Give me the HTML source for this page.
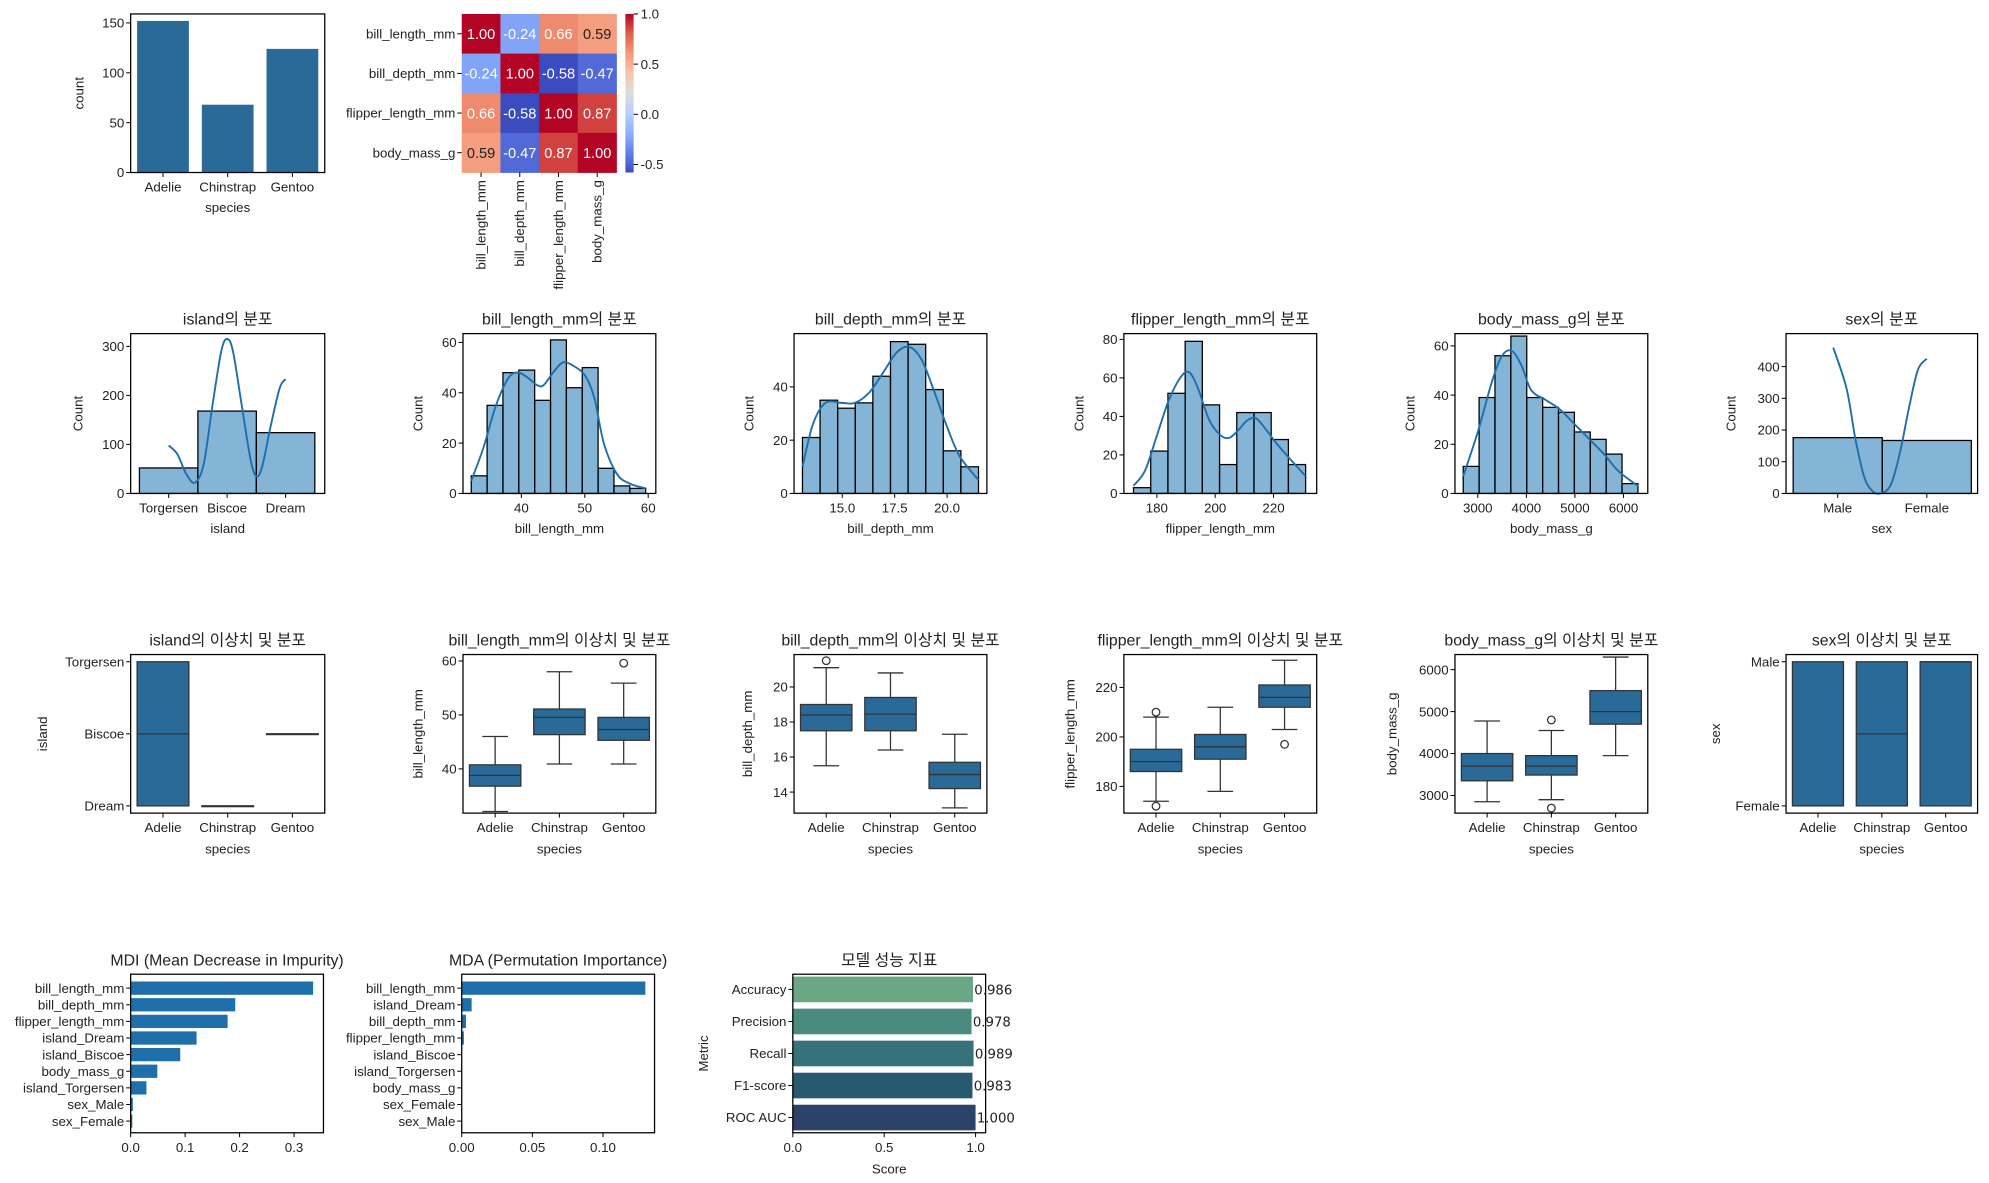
<!DOCTYPE html>
<html><head><meta charset="utf-8"><style>
html,body{margin:0;padding:0;background:#fff;}
svg{display:block;font-family:"Liberation Sans","Noto Sans CJK KR",sans-serif;}
</style></head><body>
<svg id="fig" xmlns="http://www.w3.org/2000/svg" width="1989" height="1183" viewBox="0 0 1568 932.6"></svg>
<script>
// ---------- data ----------
const speciesCats=['Adelie','Chinstrap','Gentoo'];
const speciesCounts=[152,68,124];
const heatLabels=['bill_length_mm','bill_depth_mm','flipper_length_mm','body_mass_g'];
const heatValues=[[1.00,-0.24,0.66,0.59],[-0.24,1.00,-0.58,-0.47],[0.66,-0.58,1.00,0.87],[0.59,-0.47,0.87,1.00]];
const cbarTicks=[1.0,0.5,0.0,-0.5];

const islandCats=['Torgersen','Biscoe','Dream'];
const islandCounts=[52,168,124];
const islandKdeX=[0,0.15,0.3,0.45,0.6,0.75,0.9,1.0,1.1,1.25,1.4,1.5,1.6,1.75,1.9,2.0];
const islandKdeY=[98,80,40,22,60,180,290,315,290,180,70,35,55,140,215,233];

const billLenCounts=[7,35,48,49,37,61,42,50,10,3,2];
const billLenKdeX=[32.1,34,36,38,39.5,41,42.5,43.5,45,46.5,48,50,51.5,53,55,57,59.6];
const billLenKdeY=[5,18,35,46,48,46,43,43,48,52,51,47,38,20,8,4,2];
const billDepthCounts=[21,35,32,34,44,57,56,39,16,10];
const billDepthKdeX=[13.1,13.6,14.2,15,15.6,16.3,17,17.6,18.2,18.8,19.4,20,20.6,21.5];
const billDepthKdeY=[10,26,34,34,34,38,46,53,55,50,38,25,14,5];
const flipperCounts=[3,22,52,79,46,15,42,42,28,15];
const flipperKdeX=[172,176,180,184,188,191,194,198,202,205,208,211,214,217,221,225,228,231];
const flipperKdeY=[4,12,30,48,60,63,55,38,30,29,33,38,39,34,26,19,14,9];
const bodyCounts=[11,39,56,64,39,35,33,25,22,16,4];
const bodyKdeX=[2700,3000,3300,3500,3700,3900,4100,4400,4700,5000,5300,5600,5900,6300];
const bodyKdeY=[7,25,46,56,58,52,42,38,34,28,22,16,9,3];
const sexCats=['Male','Female'];
const sexCounts=[176,167];
const sexKdeX=[-0.05,0.1,0.2,0.3,0.4,0.5,0.6,0.7,0.8,0.9,1.0];
const sexKdeY=[460,330,170,50,5,2,30,130,270,390,425];

// boxplots: [Adelie, Chinstrap, Gentoo]
const islandBoxQ1=[0,2,1],islandBoxMed=[1,2,1],islandBoxQ3=[2,2,1];
const blQ1=[36.8,46.35,45.3],blMed=[38.8,49.55,47.3],blQ3=[40.75,51.1,49.55],blLo=[32.1,40.9,40.9],blHi=[46,58,55.9],blOut=[[],[],[59.6]];
const bdQ1=[17.5,17.5,14.2],bdMed=[18.4,18.45,15.0],bdQ3=[19.0,19.4,15.7],bdLo=[15.5,16.4,13.1],bdHi=[21.1,20.8,17.3],bdOut=[[21.5],[],[]];
const flQ1=[186,191,212],flMed=[190,196,216],flQ3=[195,201,221],flLo=[174,178,203],flHi=[208,212,231],flOut=[[210,172],[],[197]];
const bmQ1=[3350,3487,4700],bmMed=[3700,3700,5000],bmQ3=[4000,3950,5500],bmLo=[2850,2900,3950],bmHi=[4775,4550,6300],bmOut=[[],[4800,2700],[]];
const sexBoxQ1=[0,0,0],sexBoxMed=[1,0.5,0],sexBoxQ3=[1,1,1];

const mdiFeatures=['bill_length_mm','bill_depth_mm','flipper_length_mm','island_Dream','island_Biscoe','body_mass_g','island_Torgersen','sex_Male','sex_Female'];
const mdiValues=[0.335,0.192,0.178,0.121,0.091,0.049,0.029,0.004,0.003];
const mdaFeatures=['bill_length_mm','island_Dream','bill_depth_mm','flipper_length_mm','island_Biscoe','island_Torgersen','body_mass_g','sex_Female','sex_Male'];
const mdaValues=[0.130,0.007,0.003,0.0015,0,0,0,0,0];
const metricNames=['Accuracy','Precision','Recall','F1-score','ROC AUC'];
const metricValues=[0.986,0.978,0.989,0.983,1.000];
const metricLabels=['0.986','0.978','0.989','0.983','1.000'];

// ---------- helpers ----------
const NS='http://www.w3.org/2000/svg';
const svg=document.getElementById('fig');
function E(tag,at,p){const e=document.createElementNS(NS,tag);for(const k in at)e.setAttribute(k,at[k]);(p||svg).appendChild(e);return e;}
function lin(d0,d1,r0,r1){return v=>r0+(v-d0)*(r1-r0)/(d1-d0);}
const FS=10.5;
function txt(x,y,s,o,p){o=o||{};const e=E('text',{x:x,y:y,'font-size':o.fs||FS,fill:'#222','text-anchor':o.a||'middle'},p);if(o.rot!==undefined)e.setAttribute('transform','rotate('+o.rot+' '+x+' '+y+')');if(o.ff)e.setAttribute('font-family',o.ff);e.textContent=s;return e;}
function frame(g,x0,y0,x1,y1){const r=E('rect',{x:x0,y:y0,width:x1-x0,height:y1-y0,fill:'none',stroke:'#000','stroke-width':1},g);}
function ytick(g,x0,y,lab){E('line',{x1:x0-3.5,y1:y,x2:x0,y2:y,stroke:'#000','stroke-width':0.8},g);const t=txt(x0-5,y+3.7,lab,{a:'end'},g);}
function xtick(g,x,y1,lab){E('line',{x1:x,y1:y1,x2:x,y2:y1+3.5,stroke:'#000','stroke-width':0.8},g);const t=txt(x,y1+15,lab,{},g);}
function smooth(pts){let d='M'+pts[0][0]+','+pts[0][1];for(let i=0;i<pts.length-1;i++){const p0=pts[i-1]||pts[i],p1=pts[i],p2=pts[i+1],p3=pts[i+2]||p2;d+=' C'+(p1[0]+(p2[0]-p0[0])/6)+','+(p1[1]+(p2[1]-p0[1])/6)+' '+(p2[0]-(p3[0]-p1[0])/6)+','+(p2[1]-(p3[1]-p1[1])/6)+' '+p2[0]+','+p2[1];}return d;}
function grp(name){const g=E('g',{});return g;}
const BOX='#2a6a98', HIST='rgba(31,119,180,0.55)', LINE='#1f6fab';

// ---------- row1: count plot ----------
(function(){
const g=grp('species-count-plot');
const X0=103,X1=256,Y0=11,Y1=136;
const y=lin(0,159,Y1,Y0);const cw=(X1-X0)/3;
speciesCounts.forEach((v,i)=>{const r=E('rect',{x:X0+cw*i+cw*0.1,y:y(v),width:cw*0.8,height:Y1-y(v),fill:BOX},g);

});
frame(g,X0,Y0,X1,Y1);
[0,50,100,150].forEach(v=>ytick(g,X0,y(v),String(v)));
speciesCats.forEach((c,i)=>xtick(g,X0+cw*(i+0.5),Y1,c));
const xl=txt((X0+X1)/2,167,'species',{},g);
const yl=txt(66,(Y0+Y1)/2,'count',{rot:-90},g);
})();

// ---------- row1: heatmap ----------
const cwStops=[[0,[59,76,192]],[0.125,[98,130,234]],[0.25,[141,176,254]],[0.375,[184,208,249]],[0.5,[221,221,221]],[0.625,[245,196,173]],[0.75,[244,154,123]],[0.875,[222,96,77]],[1,[180,4,38]]];
function coolwarm(t){t=Math.max(0,Math.min(1,t));for(let i=1;i<cwStops.length;i++){if(t<=cwStops[i][0]){const a=cwStops[i-1],b=cwStops[i];const f=(t-a[0])/(b[0]-a[0]);return 'rgb('+a[1].map((c,k)=>Math.round(c+(b[1][k]-c)*f)).join(',')+')';}}return 'rgb(180,4,38)';}
(function(){
const g=grp('correlation-heatmap');
const X0=364,X1=486,Y0=11,Y1=136;const vmin=-0.58,vmax=1.0;
const cw=(X1-X0)/4,ch=(Y1-Y0)/4;
heatValues.forEach((row,i)=>row.forEach((v,j)=>{
const r=E('rect',{x:X0+j*cw,y:Y0+i*ch,width:cw+0.3,height:ch+0.3,fill:coolwarm((v-vmin)/(vmax-vmin))},g);


const t=txt(X0+(j+0.5)*cw,Y0+(i+0.5)*ch+4.2,v.toFixed(2),{fs:11.5},g);t.setAttribute('fill',Math.abs(v)>0.5||v<0?'#fff':'#222');if(v>0.5&&v<0.7)t.setAttribute('fill','#fff');if(v>0.55&&v<0.62)t.setAttribute('fill','#222');


}));
heatLabels.forEach((l,i)=>{ytick(g,X0,Y0+(i+0.5)*ch,l);
const x=X0+(i+0.5)*cw;E('line',{x1:x,y1:Y1,x2:x,y2:Y1+3.5,stroke:'#000','stroke-width':0.8},g);
const t=txt(x+3.5,Y1+6,l,{a:'end',rot:-90},g);});
const defs=E('defs',{});const lg=E('linearGradient',{id:'cbg',x1:0,y1:1,x2:0,y2:0},defs);
for(let k=0;k<=16;k++)E('stop',{offset:k/16,'stop-color':coolwarm(k/16)},lg);
const cb=E('rect',{x:493,y:Y0,width:6.5,height:Y1-Y0,fill:'url(#cbg)'},g);


const cy=lin(vmin,vmax,Y1,Y0);
cbarTicks.forEach(v=>{E('line',{x1:499.5,y1:cy(v),x2:503,y2:cy(v),stroke:'#000','stroke-width':0.8},g);const t=txt(505,cy(v)+3.7,v.toFixed(1),{a:'start'},g);});
})();

// ---------- row2: histograms ----------
function title(g,x,y,s){const t=txt(x,y,s,{fs:12.5},g);}
function histPanel(o){
const g=grp(o.name);const Y0=263,Y1=389;
const x=lin(o.xd[0],o.xd[1],o.X0,o.X1),y=lin(0,o.ymax,Y1,Y0);
o.counts.forEach((c,i)=>{const a=o.start+i*o.w;const r=E('rect',{x:x(a),y:y(c),width:x(a+o.w)-x(a),height:Y1-y(c),fill:HIST,stroke:'#000','stroke-width':1},g);

});
const pts=o.kx.map((v,i)=>[x(v),y(o.ky[i])]);
const p=E('path',{d:smooth(pts),fill:'none',stroke:LINE,'stroke-width':1.5},g);


frame(g,o.X0,Y0,o.X1,Y1);
o.yt.forEach(v=>ytick(g,o.X0,y(v),String(v)));
o.xt.forEach((v,i)=>xtick(g,x(o.xtv?o.xtv[i]:v),Y1,o.xtl?o.xtl[i]:String(v)));
const xl=txt((o.X0+o.X1)/2,420,o.xlabel,{},g);
const yl=txt(o.X0-(o.ylo||38),(Y0+Y1)/2,'Count',{rot:-90},g);
title(g,(o.X0+o.X1)/2,256,o.title);
}
histPanel({name:'island-histogram',X0:103,X1:256,xd:[-0.65,2.67],counts:islandCounts,start:-0.5,w:1,kx:islandKdeX,ky:islandKdeY,ymax:326,yt:[0,100,200,300],xt:[0,1,2],xtl:islandCats,xlabel:'island',title:'island의 분포'});
histPanel({name:'bill-length-histogram',X0:365,X1:517,xd:[30.8,61.2],counts:billLenCounts,start:32.1,w:2.5,kx:billLenKdeX,ky:billLenKdeY,ymax:63.5,yt:[0,20,40,60],xt:[40,50,60],xlabel:'bill_length_mm',title:'bill_length_mm의 분포',ylo:32});
histPanel({name:'bill-depth-histogram',X0:626,X1:778,xd:[12.7,21.9],counts:billDepthCounts,start:13.1,w:0.84,kx:billDepthKdeX,ky:billDepthKdeY,ymax:60,yt:[0,20,40],xt:[15,17.5,20],xtl:['15.0','17.5','20.0'],xlabel:'bill_depth_mm',title:'bill_depth_mm의 분포',ylo:32});
histPanel({name:'flipper-length-histogram',X0:886,X1:1038,xd:[168.7,234.8],counts:flipperCounts,start:172,w:5.9,kx:flipperKdeX,ky:flipperKdeY,ymax:83,yt:[0,20,40,60,80],xt:[180,200,220],xlabel:'flipper_length_mm',title:'flipper_length_mm의 분포',ylo:32});
histPanel({name:'body-mass-histogram',X0:1147,X1:1299,xd:[2530,6500],counts:bodyCounts,start:2700,w:327,kx:bodyKdeX,ky:bodyKdeY,ymax:65,yt:[0,20,40,60],xt:[3000,4000,5000,6000],xlabel:'body_mass_g',title:'body_mass_g의 분포',ylo:32});
histPanel({name:'sex-histogram',X0:1408,X1:1559,xd:[-0.5-0.08,1.5+0.07],counts:sexCounts,start:-0.5,w:1,kx:sexKdeX,ky:sexKdeY,ymax:504,yt:[0,100,200,300,400],xt:[0,1],xtl:sexCats,xlabel:'sex',title:'sex의 분포',ylo:40});

// ---------- row3: boxplots ----------
function boxPanel(o){
const g=grp(o.name);const Y0=516,Y1=641;
const y=lin(o.yd[0],o.yd[1],Y1,Y0);const cw=(o.X1-o.X0)/3;const bw=cw*0.8;
for(let i=0;i<3;i++){
const cx=o.X0+cw*(i+0.5);
if(o.lo){E('line',{x1:cx,y1:y(o.lo[i]),x2:cx,y2:y(o.q1[i]),stroke:'#333','stroke-width':1},g);
E('line',{x1:cx,y1:y(o.q3[i]),x2:cx,y2:y(o.hi[i]),stroke:'#333','stroke-width':1},g);
E('line',{x1:cx-bw/4,y1:y(o.lo[i]),x2:cx+bw/4,y2:y(o.lo[i]),stroke:'#333','stroke-width':1},g);
E('line',{x1:cx-bw/4,y1:y(o.hi[i]),x2:cx+bw/4,y2:y(o.hi[i]),stroke:'#333','stroke-width':1},g);}
const top=Math.min(y(o.q1[i]),y(o.q3[i])),h=Math.abs(y(o.q1[i])-y(o.q3[i]));
const r=E('rect',{x:cx-bw/2,y:top,width:bw,height:Math.max(h,0.6),fill:BOX,stroke:'#333','stroke-width':1},g);


E('line',{x1:cx-bw/2,y1:y(o.med[i]),x2:cx+bw/2,y2:y(o.med[i]),stroke:'#333','stroke-width':1},g);
if(o.out)o.out[i].forEach(v=>{const c=E('circle',{cx:cx,cy:y(v),r:3,fill:'none',stroke:'#333','stroke-width':1},g);

});
xtick(g,cx,Y1,speciesCats[i]);
}
frame(g,o.X0,Y0,o.X1,Y1);
o.yt.forEach((v,i)=>ytick(g,o.X0,y(v),o.ytl?o.ytl[i]:String(v)));
const xl=txt((o.X0+o.X1)/2,673,'species',{},g);
const yl=txt(o.X0-o.ylo,(Y0+Y1)/2,o.ylabel,{rot:-90},g);
title(g,(o.X0+o.X1)/2,509,o.title);
}
boxPanel({name:'island-boxplot',X0:103,X1:256,yd:[2.1,-0.1],q1:islandBoxQ1,med:islandBoxMed,q3:islandBoxQ3,yt:[0,1,2],ytl:islandCats,ylabel:'island',ylo:66,title:'island의 이상치 및 분포'});
boxPanel({name:'bill-length-boxplot',X0:365,X1:517,yd:[31.8,61.2],q1:blQ1,med:blMed,q3:blQ3,lo:blLo,hi:blHi,out:blOut,yt:[40,50,60],ylabel:'bill_length_mm',ylo:32,title:'bill_length_mm의 이상치 및 분포'});
boxPanel({name:'bill-depth-boxplot',X0:626,X1:778,yd:[12.8,21.85],q1:bdQ1,med:bdMed,q3:bdQ3,lo:bdLo,hi:bdHi,out:bdOut,yt:[14,16,18,20],ylabel:'bill_depth_mm',ylo:33,title:'bill_depth_mm의 이상치 및 분포'});
boxPanel({name:'flipper-length-boxplot',X0:886,X1:1038,yd:[169.2,233.3],q1:flQ1,med:flMed,q3:flQ3,lo:flLo,hi:flHi,out:flOut,yt:[180,200,220],ylabel:'flipper_length_mm',ylo:39,title:'flipper_length_mm의 이상치 및 분포'});
boxPanel({name:'body-mass-boxplot',X0:1147,X1:1299,yd:[2580,6360],q1:bmQ1,med:bmMed,q3:bmQ3,lo:bmLo,hi:bmHi,out:bmOut,yt:[3000,4000,5000,6000],ylabel:'body_mass_g',ylo:46,title:'body_mass_g의 이상치 및 분포'});
boxPanel({name:'sex-boxplot',X0:1408,X1:1559,yd:[1.05,-0.05],q1:sexBoxQ1,med:sexBoxMed,q3:sexBoxQ3,yt:[0,1],ytl:sexCats,ylabel:'sex',ylo:52,title:'sex의 이상치 및 분포'});

// ---------- row4: importance bars ----------
function barhPanel(o){
const g=grp(o.name);const Y0=768,Y1=893;
const x=lin(0,o.xmax,o.X0,o.X1);const step=o.step;const bh=step*0.8;
o.vals.forEach((v,i)=>{const cy=o.first+step*i;
const r=E('rect',{x:o.X0,y:cy-bh/2,width:x(v)-o.X0,height:bh,fill:o.colors?o.colors[i]:'#1f6fab'},g);


ytick(g,o.X0,cy,o.cats[i]);
if(o.labels){const t=txt(x(v)+1,cy+4,o.labels[i],{a:'start',ff:'"DejaVu Sans",sans-serif',fs:10.5},g);}
});
frame(g,o.X0,Y0,o.X1,Y1);
o.xt.forEach((v,i)=>xtick(g,x(v),Y1,o.xtl[i]));
if(o.xlabel){const xl=txt((o.X0+o.X1)/2,925,o.xlabel,{},g);}
if(o.ylabel){const yl=txt(o.X0-67,(Y0+Y1)/2,o.ylabel,{rot:-90},g);}
title(g,(o.X0+o.X1)/2,761,o.title);
}
barhPanel({name:'mdi-importance-chart',X0:103,X1:255,xmax:0.354,first:779,step:13.1,cats:mdiFeatures,vals:mdiValues,xt:[0,0.1,0.2,0.3],xtl:['0.0','0.1','0.2','0.3'],title:'MDI (Mean Decrease in Impurity)'});
barhPanel({name:'mda-importance-chart',X0:364,X1:516,xmax:0.1365,first:779,step:13.1,cats:mdaFeatures,vals:mdaValues,xt:[0,0.05,0.1],xtl:['0.00','0.05','0.10'],title:'MDA (Permutation Importance)'});
barhPanel({name:'model-metrics-chart',X0:625,X1:777,xmax:1.055,first:780,step:25.25,cats:metricNames,vals:metricValues,labels:metricLabels,colors:['#6aa784','#4a8b80','#35727a','#275a6f','#2c4268'],xt:[0,0.5,1],xtl:['0.0','0.5','1.0'],xlabel:'Score',ylabel:'Metric',title:'모델 성능 지표'});
</script>
</body></html>
